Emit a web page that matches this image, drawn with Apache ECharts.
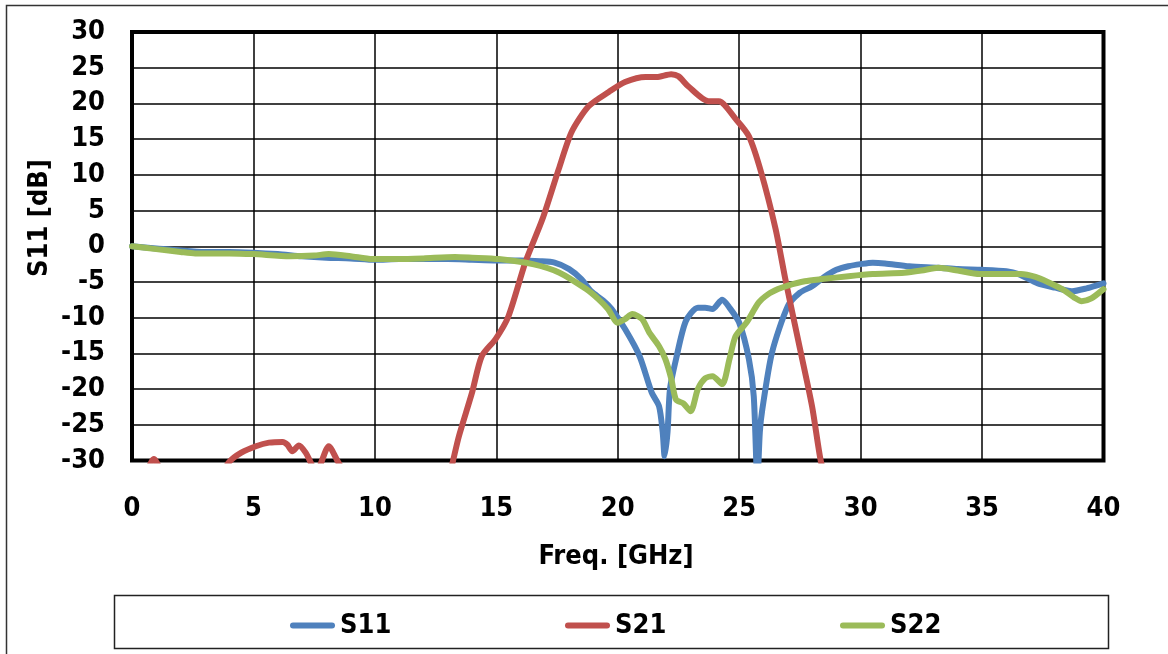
<!DOCTYPE html>
<html>
<head>
<meta charset="utf-8">
<script src="https://cdn.jsdelivr.net/npm/echarts@6/dist/echarts.min.js"></script>
<style>
html,body{margin:0;padding:0;background:#fff;}
#chart{width:1168px;height:654px;}
</style>
</head>
<body>
<div id="chart"></div>
<script>
// ---- Data ----
const xTicks = [0, 5, 10, 15, 20, 25, 30, 35, 40];
const yTicks = [-30, -25, -20, -15, -10, -5, 0, 5, 10, 15, 20, 25, 30];

const s11Freq = [0, 1, 2, 3, 4, 5, 6, 7, 8, 9, 10, 11, 12, 13, 14, 15, 16, 16.8, 17.4, 18.0, 18.5, 18.9, 19.4, 19.75, 20.3, 20.9, 21.4, 21.7, 21.85, 21.93, 22.05, 22.15, 22.4, 22.8, 23.3, 23.6, 23.9, 24.3, 24.6, 25.0, 25.4, 25.6, 25.75, 25.85, 25.95, 26.35, 27.0, 27.5, 28.0, 28.5, 29.0, 29.5, 30.0, 30.5, 31, 32, 33.2, 34, 35, 36, 36.5, 37.3, 38, 38.7, 39.3, 39.9, 40];
const s11Val  = [0, -0.3, -0.6, -0.8, -0.8, -0.9, -1.1, -1.4, -1.6, -1.7, -1.9, -1.8, -1.8, -1.8, -1.9, -2.0, -2.0, -2.1, -2.3, -3.2, -4.6, -6.3, -7.6, -8.8, -11.6, -15.4, -20.5, -22.4, -26, -29.4, -26, -20, -15.8, -10.5, -8.6, -8.6, -8.8, -7.5, -8.6, -10.7, -15.8, -21, -33, -26, -22.9, -14.9, -8.4, -6.5, -5.6, -4.3, -3.3, -2.8, -2.5, -2.3, -2.4, -2.8, -3.0, -3.2, -3.3, -3.5, -3.9, -5.2, -5.8, -6.3, -5.9, -5.3, -5.2];

const s21Freq = [0, 0.6, 0.9, 1.2, 2, 3, 3.7, 4.0, 4.5, 5.1, 5.64, 6.2, 6.4, 6.6, 6.87, 7.15, 7.36, 7.6, 7.8, 8.1, 8.5, 9, 10, 12, 13.0, 13.2, 13.46, 14.0, 14.4, 14.97, 15.5, 16.2, 16.9, 17.57, 18.1, 18.8, 19.63, 20.3, 21.15, 21.6, 22.2, 22.5, 22.9, 23.74, 24.16, 24.86, 25.4, 25.9, 26.5, 26.9, 27.45, 28.0, 28.35, 28.6];
const s21Val  = [-34, -31.5, -29.8, -31.5, -36, -36, -32, -30.2, -28.9, -28.0, -27.5, -27.4, -27.8, -28.7, -27.9, -28.9, -30.3, -32, -30.2, -28.0, -30.3, -33, -36, -36, -33, -30.3, -26.6, -20.5, -15.4, -13.0, -9.8, -2.2, 3.8, 10.8, 16, 19.6, 21.6, 23, 23.7, 23.7, 24.1, 23.8, 22.4, 20.3, 20.3, 17.8, 15.4, 10.4, 2.4, -4.6, -13.5, -22.4, -29.9, -33];

const s22Freq = [0, 1, 2, 2.6, 4, 5, 6.5, 7.5, 8.1, 9, 9.9, 11, 12, 13.3, 14, 15.1, 16.5, 17.6, 18.7, 19.2, 19.6, 20.0, 20.3, 20.6, 21.0, 21.3, 21.7, 21.96, 22.2, 22.4, 22.7, 23.0, 23.3, 23.6, 23.9, 24.3, 24.6, 24.85, 25.3, 25.8, 26.2, 26.6, 27.0, 27.7, 28.4, 29.5, 30.5, 31.8, 32.5, 33.2, 34, 34.9, 36, 36.6, 37.2, 37.7, 38.3, 38.8, 39.1, 39.5, 40];
const s22Val  = [0, -0.4, -0.8, -1.0, -1.0, -1.1, -1.4, -1.3, -1.1, -1.4, -1.8, -1.8, -1.7, -1.5, -1.6, -1.8, -2.5, -3.7, -6.0, -7.4, -8.8, -10.7, -10.2, -9.5, -10.2, -12.1, -14, -15.8, -18.5, -21.5, -22, -23.1, -20.0, -18.5, -18.2, -19.3, -15.8, -12.6, -10.7, -7.9, -6.7, -6.0, -5.5, -4.9, -4.6, -4.2, -3.9, -3.7, -3.4, -3.0, -3.4, -3.9, -3.9, -3.9, -4.3, -5.0, -6.0, -7.2, -7.7, -7.3, -6.0];

const seriesNames = ['S11', 'S21', 'S22'];
const colors = ['#4F81BD', '#C0504D', '#9BBB59'];

// ---- Chart ----
const pair = (xs, ys) => xs.map((x, i) => [x, ys[i]]);
const FONT = '"DejaVu Sans Condensed", "DejaVu Sans", sans-serif';
const chart = echarts.init(document.getElementById('chart'), null, {renderer: 'canvas'});

const legendIcon = 'path://M3,0 H42 A3,3 0 0 1 42,6 H3 A3,3 0 0 1 3,0 Z';
const legendLefts = [285, 560, 835];

const option = {
  backgroundColor: '#fff',
  animation: false,
  color: colors,
  grid: {
    left: 132, top: 32, right: 64.5, bottom: 193.5,
    show: true, borderColor: '#000', borderWidth: 4, backgroundColor: 'transparent'
  },
  xAxis: {
    type: 'value', min: xTicks[0], max: xTicks[xTicks.length - 1], interval: 5,
    axisLine: {show: false}, axisTick: {show: false},
    splitLine: {show: true, lineStyle: {color: '#000', width: 1.5}},
    axisLabel: {color: '#000', fontFamily: FONT, fontWeight: 'bold', fontSize: 27, margin: 35}
  },
  yAxis: {
    type: 'value', min: yTicks[0], max: yTicks[yTicks.length - 1], interval: 5,
    axisLine: {show: false}, axisTick: {show: false},
    splitLine: {show: true, lineStyle: {color: '#000', width: 1.5}},
    axisLabel: {color: '#000', fontFamily: FONT, fontWeight: 'bold', fontSize: 27, margin: 27}
  },
  legend: seriesNames.map((n, i) => ({
    data: [n], left: legendLefts[i], top: 607,
    icon: legendIcon, itemWidth: 45, itemHeight: 6,
    textStyle: {color: '#000', fontFamily: FONT, fontWeight: 'bold', fontSize: 27},
    selectedMode: false
  })),
  graphic: [
    {type: 'rect', left: 4, top: 3, shape: {width: 1300, height: 800}, style: {fill: 'none', stroke: '#333', lineWidth: 1.5}, silent: true},
    {type: 'rect', left: 112, top: 593, shape: {width: 994, height: 53}, style: {fill: 'none', stroke: '#222', lineWidth: 1.5}, silent: true},
    {type: 'text', x: 616, y: 557, style: {text: 'Freq. [GHz]', fill: '#000', font: 'bold 27px ' + FONT, textAlign: 'center', textVerticalAlign: 'middle'}},
    {type: 'text', x: 40, y: 218, rotation: Math.PI / 2, style: {text: 'S11 [dB]', fill: '#000', font: 'bold 27px ' + FONT, textAlign: 'center', textVerticalAlign: 'middle'}}
  ],
  series: [
    {name: 'S11', type: 'line', data: pair(s11Freq, s11Val)},
    {name: 'S21', type: 'line', data: pair(s21Freq, s21Val)},
    {name: 'S22', type: 'line', data: pair(s22Freq, s22Val)}
  ].map((s, i) => Object.assign(s, {
    showSymbol: false, symbol: 'none', smooth: 0.25, clip: true,
    lineStyle: {width: 6, color: colors[i], cap: 'round', join: 'round'},
    itemStyle: {color: colors[i]}
  }))
};
chart.setOption(option);
</script>
</body>
</html>
